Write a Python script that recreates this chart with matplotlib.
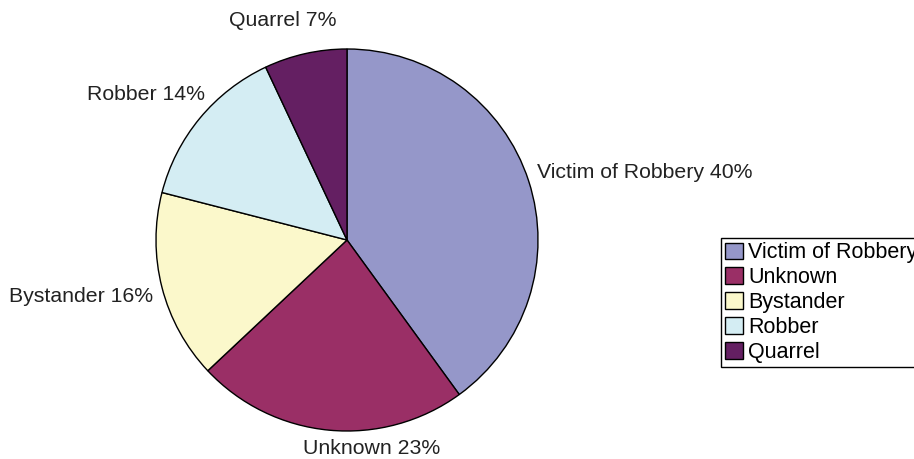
import matplotlib.pyplot as plt

categories = ["Victim of Robbery", "Unknown", "Bystander", "Robber", "Quarrel"]
percents = [40, 23, 16, 14, 7]
colors = ["#9597c9", "#9a2f66", "#fbf8cb", "#d4edf3", "#641f62"]

# label anchor points in pixel space (layout only)
label_pos = [(537, 173, "left"), (372, 448, "center"), (153, 297, "right"),
             (205, 95, "right"), (283, 20, "center")]

plt.rcParams["font.family"] = ["Liberation Sans", "DejaVu Sans"]

fig = plt.figure(figsize=(9.14, 4.59), dpi=100)
ax = fig.add_axes([0, 0, 1, 1])

wedges, _ = ax.pie(percents, colors=colors, startangle=90, counterclock=False,
                   center=(347, 459 - 240), radius=191,
                   wedgeprops={"edgecolor": "black", "linewidth": 1.0})
ax.set_xlim(0, 914)
ax.set_ylim(0, 459)
ax.set_aspect("equal")
ax.axis("off")

for name, pct, (x, y, ha) in zip(categories, percents, label_pos):
    ax.text(x, 459 - y, f"{name} {pct}%", ha=ha, va="center",
            fontsize=15.3, color="#222222")

leg = fig.legend(wedges, categories, loc="upper left",
                 bbox_to_anchor=(721 / 914, 1 - 238 / 459),
                 fontsize=15.5, frameon=True, fancybox=False, framealpha=1,
                 borderpad=0.2, labelspacing=0.18, handlelength=0.8,
                 handleheight=0.8, handletextpad=0.25, borderaxespad=0)
leg.get_frame().set_edgecolor("black")
leg.get_frame().set_facecolor("white")
leg.get_frame().set_linewidth(1.0)

fig.savefig("out.png", dpi=100)
